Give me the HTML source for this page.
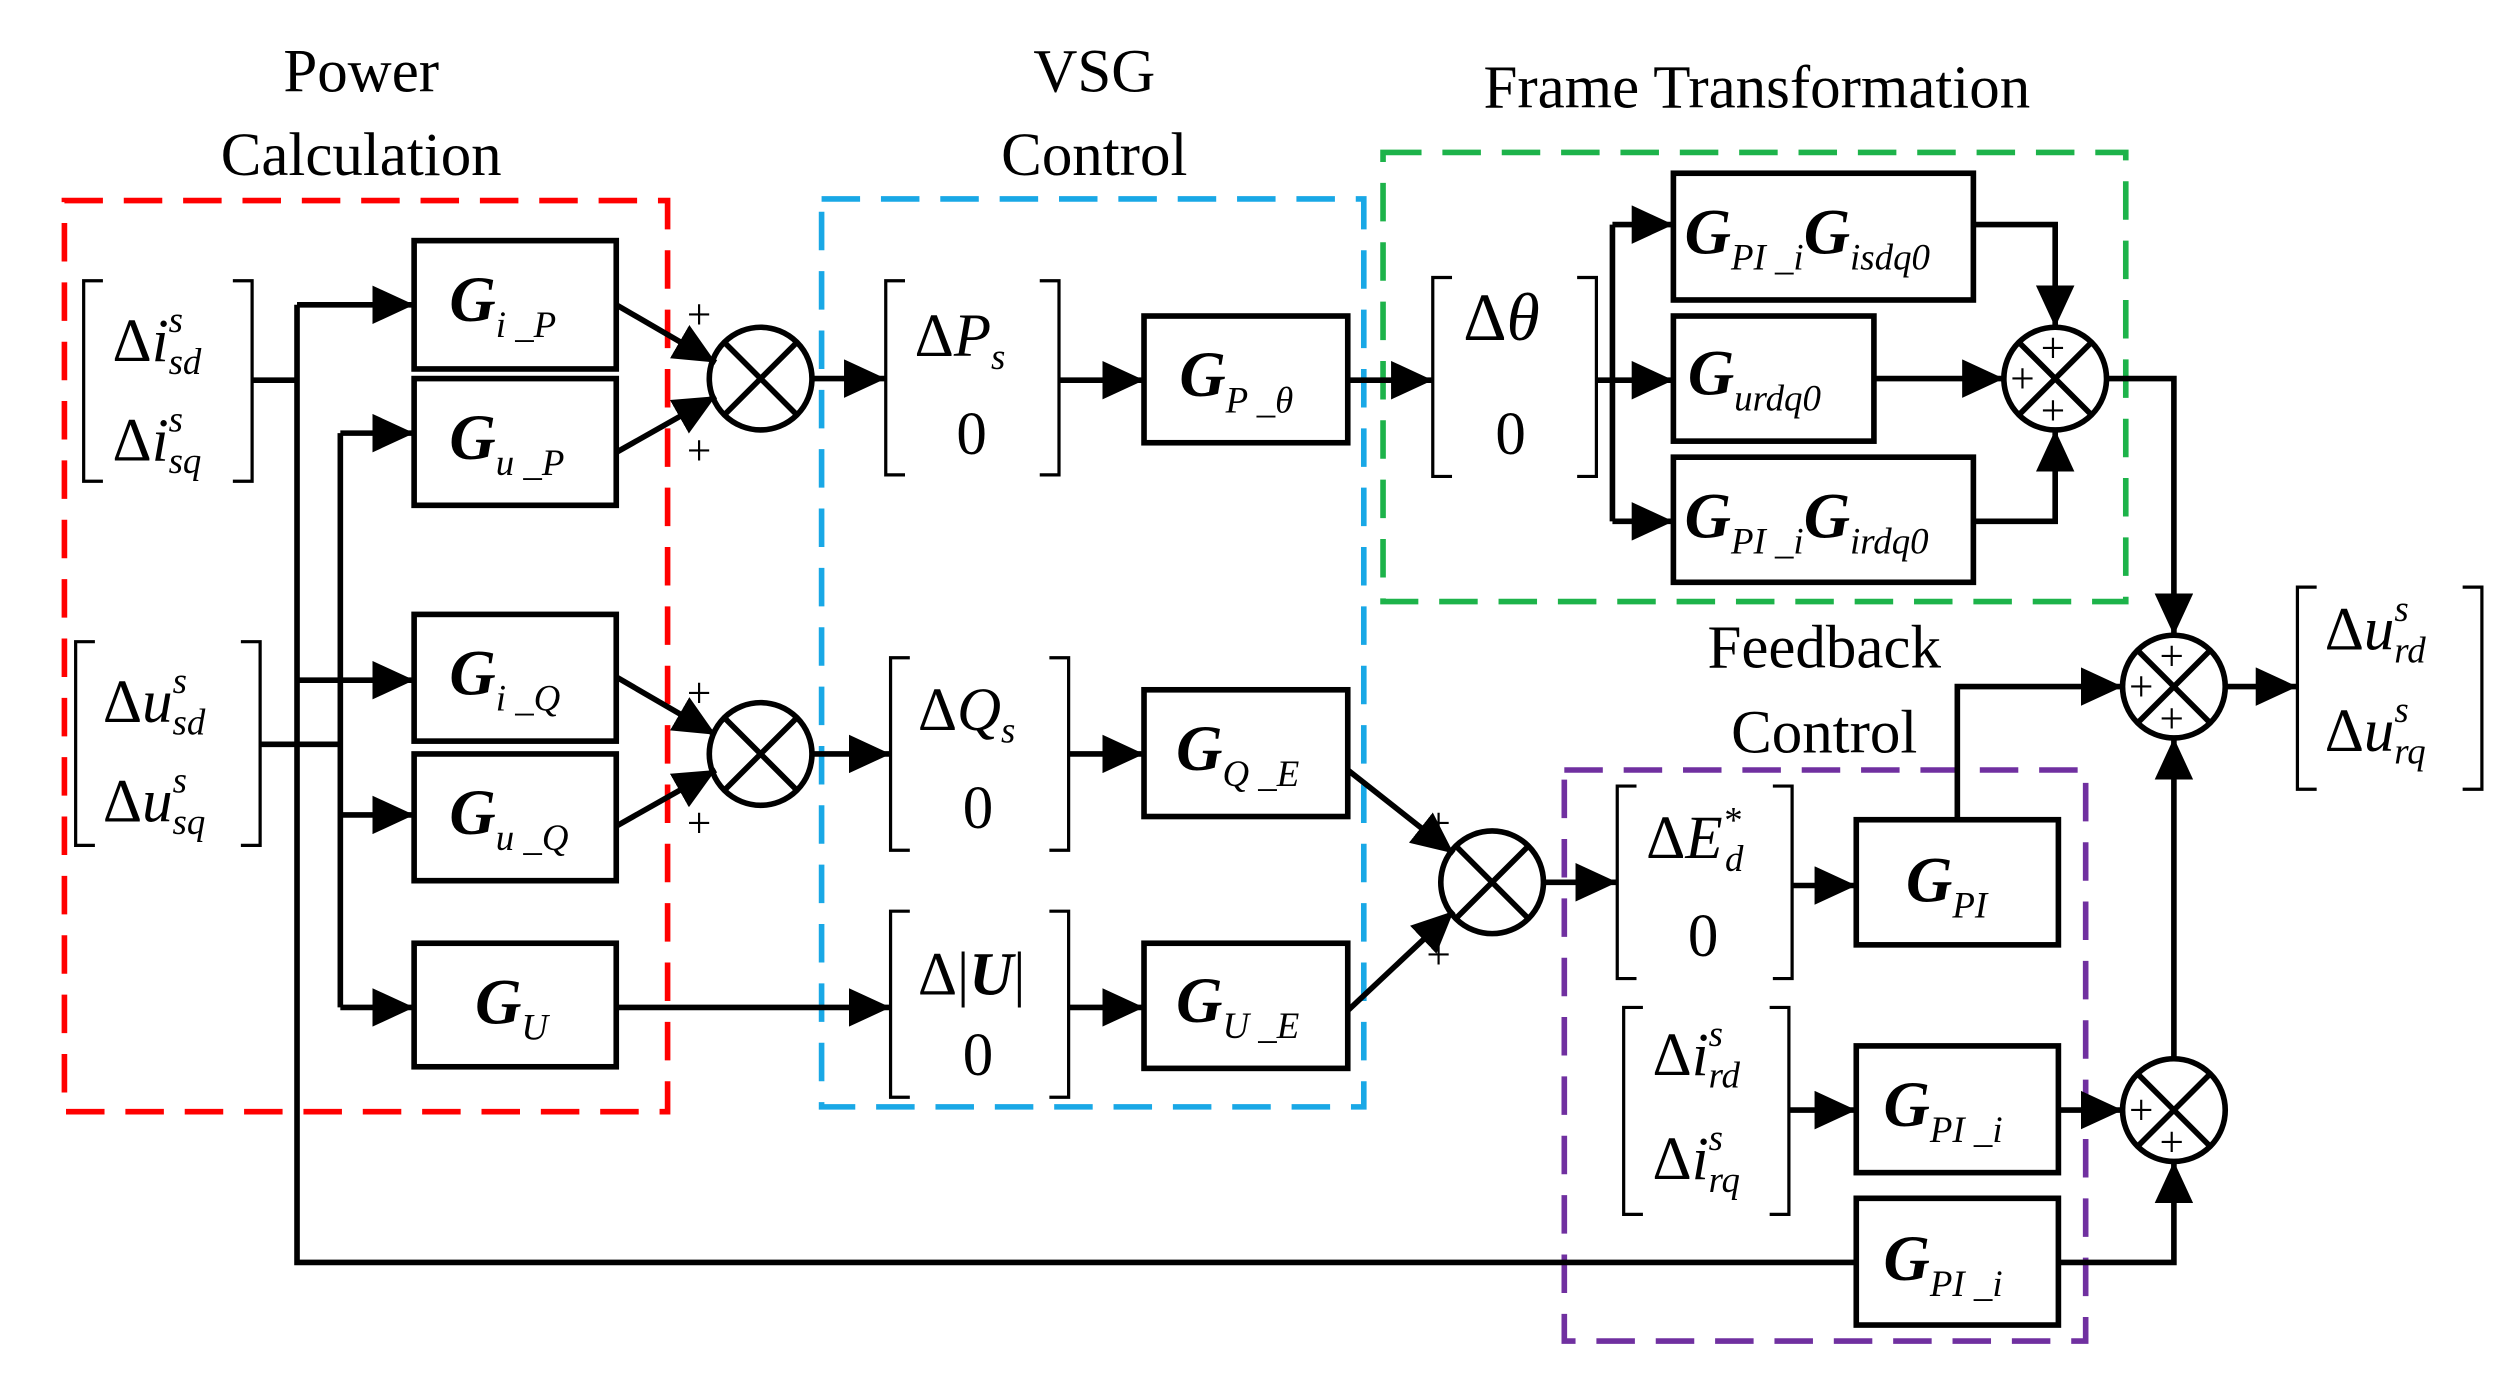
<!DOCTYPE html>
<html><head><meta charset="utf-8"><style>
html,body{margin:0;padding:0;background:#fff}
svg{display:block}
text{font-family:"Liberation Serif",serif;fill:#000}
.t{font-size:38px}
.g{font-size:40px;font-weight:bold;font-style:italic}
.s{font-size:23px;font-weight:normal;font-style:italic}
.m{font-size:38px}
.pl{font-size:27px}
</style></head><body>
<svg width="2503" height="1386" viewBox="0 0 1560 864" xmlns="http://www.w3.org/2000/svg">
<defs>
<marker id="a" markerUnits="userSpaceOnUse" markerWidth="28" markerHeight="24" refX="26" refY="12" orient="auto">
<path d="M0,0 L26,12 L0,24 Z" fill="#000"/></marker>
</defs>
<text class="t" x="225" y="57" text-anchor="middle">Power</text>
<text class="t" x="225" y="109" text-anchor="middle">Calculation</text>
<text class="t" x="682" y="57" text-anchor="middle">VSG</text>
<text class="t" x="682" y="109" text-anchor="middle">Control</text>
<text class="t" x="1095" y="67" text-anchor="middle">Frame Transformation</text>
<text class="t" x="1137" y="416" text-anchor="middle">Feedback</text>
<text class="t" x="1137" y="469" text-anchor="middle">Control</text>
<g fill="none" stroke-width="3.5" stroke-dasharray="24,13">
<rect x="40" y="125" width="376" height="568" stroke="#f00"/>
<rect x="512" y="124" width="338" height="566" stroke="#19a8e6"/>
<rect x="862" y="95" width="463" height="280" stroke="#1db34a"/>
<rect x="975" y="480" width="325" height="356" stroke="#7030a0"/>
</g>
<g fill="none" stroke="#000" stroke-width="3.5">
<rect x="258" y="150" width="126" height="80"/>
<rect x="258" y="236" width="126" height="79"/>
<rect x="258" y="383" width="126" height="79"/>
<rect x="258" y="470" width="126" height="79"/>
<rect x="258" y="588" width="126" height="77"/>
<rect x="713" y="197" width="127" height="79"/>
<rect x="713" y="430" width="127" height="79"/>
<rect x="713" y="588" width="127" height="78"/>
<rect x="1043" y="108" width="187" height="79"/>
<rect x="1043" y="197" width="125" height="78"/>
<rect x="1043" y="285" width="187" height="78"/>
<rect x="1157" y="511" width="126" height="78"/>
<rect x="1157" y="652" width="126" height="79"/>
<rect x="1157" y="747" width="126" height="79"/>
<circle cx="474" cy="236" r="32"/><path d="M451.4,213.4 L496.6,258.6 M496.6,213.4 L451.4,258.6"/>
<circle cx="474" cy="470" r="32"/><path d="M451.4,447.4 L496.6,492.6 M496.6,447.4 L451.4,492.6"/>
<circle cx="930" cy="550" r="32"/><path d="M907.4,527.4 L952.6,572.6 M952.6,527.4 L907.4,572.6"/>
<circle cx="1281" cy="236" r="32"/><path d="M1258.4,213.4 L1303.6,258.6 M1303.6,213.4 L1258.4,258.6"/>
<circle cx="1355" cy="428" r="32"/><path d="M1332.4,405.4 L1377.6,450.6 M1377.6,405.4 L1332.4,450.6"/>
<circle cx="1355" cy="692" r="32"/><path d="M1332.4,669.4 L1377.6,714.6 M1377.6,669.4 L1332.4,714.6"/>
</g>
<g fill="none" stroke="#000" stroke-width="2">
<path d="M64,175 H52 V300 H64 M145,175 H157 V300 H145"/>
<path d="M59,400 H47 V527 H59 M150,400 H162 V527 H150"/>
<path d="M564,175 H552 V296 H564 M648,175 H660 V296 H648"/>
<path d="M567,410 H555 V530 H567 M654,410 H666 V530 H654"/>
<path d="M567,568 H555 V684 H567 M654,568 H666 V684 H654"/>
<path d="M905,173 H893 V297 H905 M983,173 H995 V297 H983"/>
<path d="M1020,490 H1008 V610 H1020 M1105,490 H1117 V610 H1105"/>
<path d="M1024,628 H1012 V757 H1024 M1103,628 H1115 V757 H1103"/>
<path d="M1444,366 H1432 V492 H1444 M1535,366 H1547 V492 H1535"/>
</g>
<g fill="none" stroke="#000" stroke-width="3.5">
<path d="M157,237 H185"/>
<path d="M185,190 V787 H1157"/>
<path d="M185,190 H258" marker-end="url(#a)"/>
<path d="M185,424 H258" marker-end="url(#a)"/>
<path d="M162,464 H212"/>
<path d="M212,270 V628"/>
<path d="M212,270 H258" marker-end="url(#a)"/>
<path d="M212,508 H258" marker-end="url(#a)"/>
<path d="M212,628 H258" marker-end="url(#a)"/>
<path d="M384,190 L446,226" marker-end="url(#a)"/>
<path d="M384,282 L446,247" marker-end="url(#a)"/>
<path d="M384,422 L446,458" marker-end="url(#a)"/>
<path d="M384,515 L446,480" marker-end="url(#a)"/>
<path d="M506,236 H552" marker-end="url(#a)"/>
<path d="M506,470 H555" marker-end="url(#a)"/>
<path d="M384,628 H555" marker-end="url(#a)"/>
<path d="M660,237 H713" marker-end="url(#a)"/>
<path d="M666,470 H713" marker-end="url(#a)"/>
<path d="M666,628 H713" marker-end="url(#a)"/>
<path d="M840,237 H893" marker-end="url(#a)"/>
<path d="M995,237 H1005 M1005,140 V325"/>
<path d="M1005,140 H1043" marker-end="url(#a)"/>
<path d="M1005,237 H1043" marker-end="url(#a)"/>
<path d="M1005,325 H1043" marker-end="url(#a)"/>
<path d="M1230,140 H1281 V204" marker-end="url(#a)"/>
<path d="M1168,236 H1249" marker-end="url(#a)"/>
<path d="M1230,325 H1281 V268" marker-end="url(#a)"/>
<path d="M1313,236 H1355 V396" marker-end="url(#a)"/>
<path d="M1387,428 H1432" marker-end="url(#a)"/>
<path d="M1220,511 V428 H1323" marker-end="url(#a)"/>
<path d="M1355,660 V460" marker-end="url(#a)"/>
<path d="M1283,692 H1323" marker-end="url(#a)"/>
<path d="M1283,787 H1355 V724" marker-end="url(#a)"/>
<path d="M840,480 L906,532" marker-end="url(#a)"/>
<path d="M840,630 L906,568" marker-end="url(#a)"/>
<path d="M962,550 H1008" marker-end="url(#a)"/>
<path d="M1117,552 H1157" marker-end="url(#a)"/>
<path d="M1115,692 H1157" marker-end="url(#a)"/>
</g>
<g class="pl">
<text x="428" y="205">+</text><text x="428" y="290">+</text>
<text x="428" y="441">+</text><text x="428" y="522">+</text>
<text x="889" y="522">+</text><text x="889" y="604">+</text>
<text x="1272" y="226">+</text><text x="1253" y="245">+</text><text x="1272" y="265">+</text>
<text x="1346" y="418">+</text><text x="1327" y="437">+</text><text x="1346" y="457">+</text>
<text x="1327" y="701">+</text><text x="1346" y="721">+</text>
</g>
<g class="g">
<text x="280" y="200">G<tspan class="s" dy="10">i _P</tspan></text>
<text x="280" y="286">G<tspan class="s" dy="10">u _P</tspan></text>
<text x="280" y="433">G<tspan class="s" dy="10">i _Q</tspan></text>
<text x="280" y="520">G<tspan class="s" dy="10">u _Q</tspan></text>
<text x="296" y="638">G<tspan class="s" dy="10">U</tspan></text>
<text x="735" y="247">G<tspan class="s" dy="10">P _θ</tspan></text>
<text x="733" y="480">G<tspan class="s" dy="10">Q _E</tspan></text>
<text x="733" y="637">G<tspan class="s" dy="10">U _E</tspan></text>
<text x="1050" y="158">G<tspan class="s" dy="10">PI _i</tspan><tspan dy="-10">G</tspan><tspan class="s" dy="10">isdq0</tspan></text>
<text x="1052" y="246">G<tspan class="s" dy="10">urdq0</tspan></text>
<text x="1050" y="335">G<tspan class="s" dy="10">PI _i</tspan><tspan dy="-10">G</tspan><tspan class="s" dy="10">irdq0</tspan></text>
<text x="1188" y="562">G<tspan class="s" dy="10">PI</tspan></text>
<text x="1174" y="702">G<tspan class="s" dy="10">PI _i</tspan></text>
<text x="1174" y="798">G<tspan class="s" dy="10">PI _i</tspan></text>
</g>
<g class="m">
<text x="70" y="225">Δ<tspan font-style="italic">i</tspan><tspan class="s" dy="-18">s</tspan><tspan class="s" dx="-9" dy="26">sd</tspan></text>
<text x="70" y="287">Δ<tspan font-style="italic">i</tspan><tspan class="s" dy="-18">s</tspan><tspan class="s" dx="-9" dy="26">sq</tspan></text>
<text x="64" y="450">Δ<tspan font-style="italic">u</tspan><tspan class="s" dy="-18">s</tspan><tspan class="s" dx="-9" dy="26">sd</tspan></text>
<text x="64" y="512">Δ<tspan font-style="italic">u</tspan><tspan class="s" dy="-18">s</tspan><tspan class="s" dx="-9" dy="26">sq</tspan></text>
<text x="570" y="222">Δ<tspan font-style="italic">P</tspan><tspan class="s" dy="8">s</tspan></text>
<text x="596" y="283">0</text>
<text x="572" y="455">Δ<tspan font-style="italic">Q</tspan><tspan class="s" dy="8">s</tspan></text>
<text x="600" y="516">0</text>
<text x="572" y="620">Δ|<tspan font-weight="bold" font-style="italic">U</tspan>|</text>
<text x="600" y="670">0</text>
<text x="912" y="212" font-size="42">Δ<tspan font-style="italic">θ</tspan></text>
<text x="932" y="283">0</text>
<text x="1026" y="535">Δ<tspan font-style="italic">E</tspan><tspan class="s" dy="-16">*</tspan><tspan class="s" dx="-10" dy="24">d</tspan></text>
<text x="1052" y="596">0</text>
<text x="1030" y="670">Δ<tspan font-style="italic">i</tspan><tspan class="s" dy="-18">s</tspan><tspan class="s" dx="-9" dy="26">rd</tspan></text>
<text x="1030" y="735">Δ<tspan font-style="italic">i</tspan><tspan class="s" dy="-18">s</tspan><tspan class="s" dx="-9" dy="26">rq</tspan></text>
<text x="1449" y="405">Δ<tspan font-style="italic">u</tspan><tspan class="s" dy="-18">s</tspan><tspan class="s" dx="-9" dy="26">rd</tspan></text>
<text x="1449" y="468">Δ<tspan font-style="italic">u</tspan><tspan class="s" dy="-18">s</tspan><tspan class="s" dx="-9" dy="26">rq</tspan></text>
</g>
</svg>
</body></html>
